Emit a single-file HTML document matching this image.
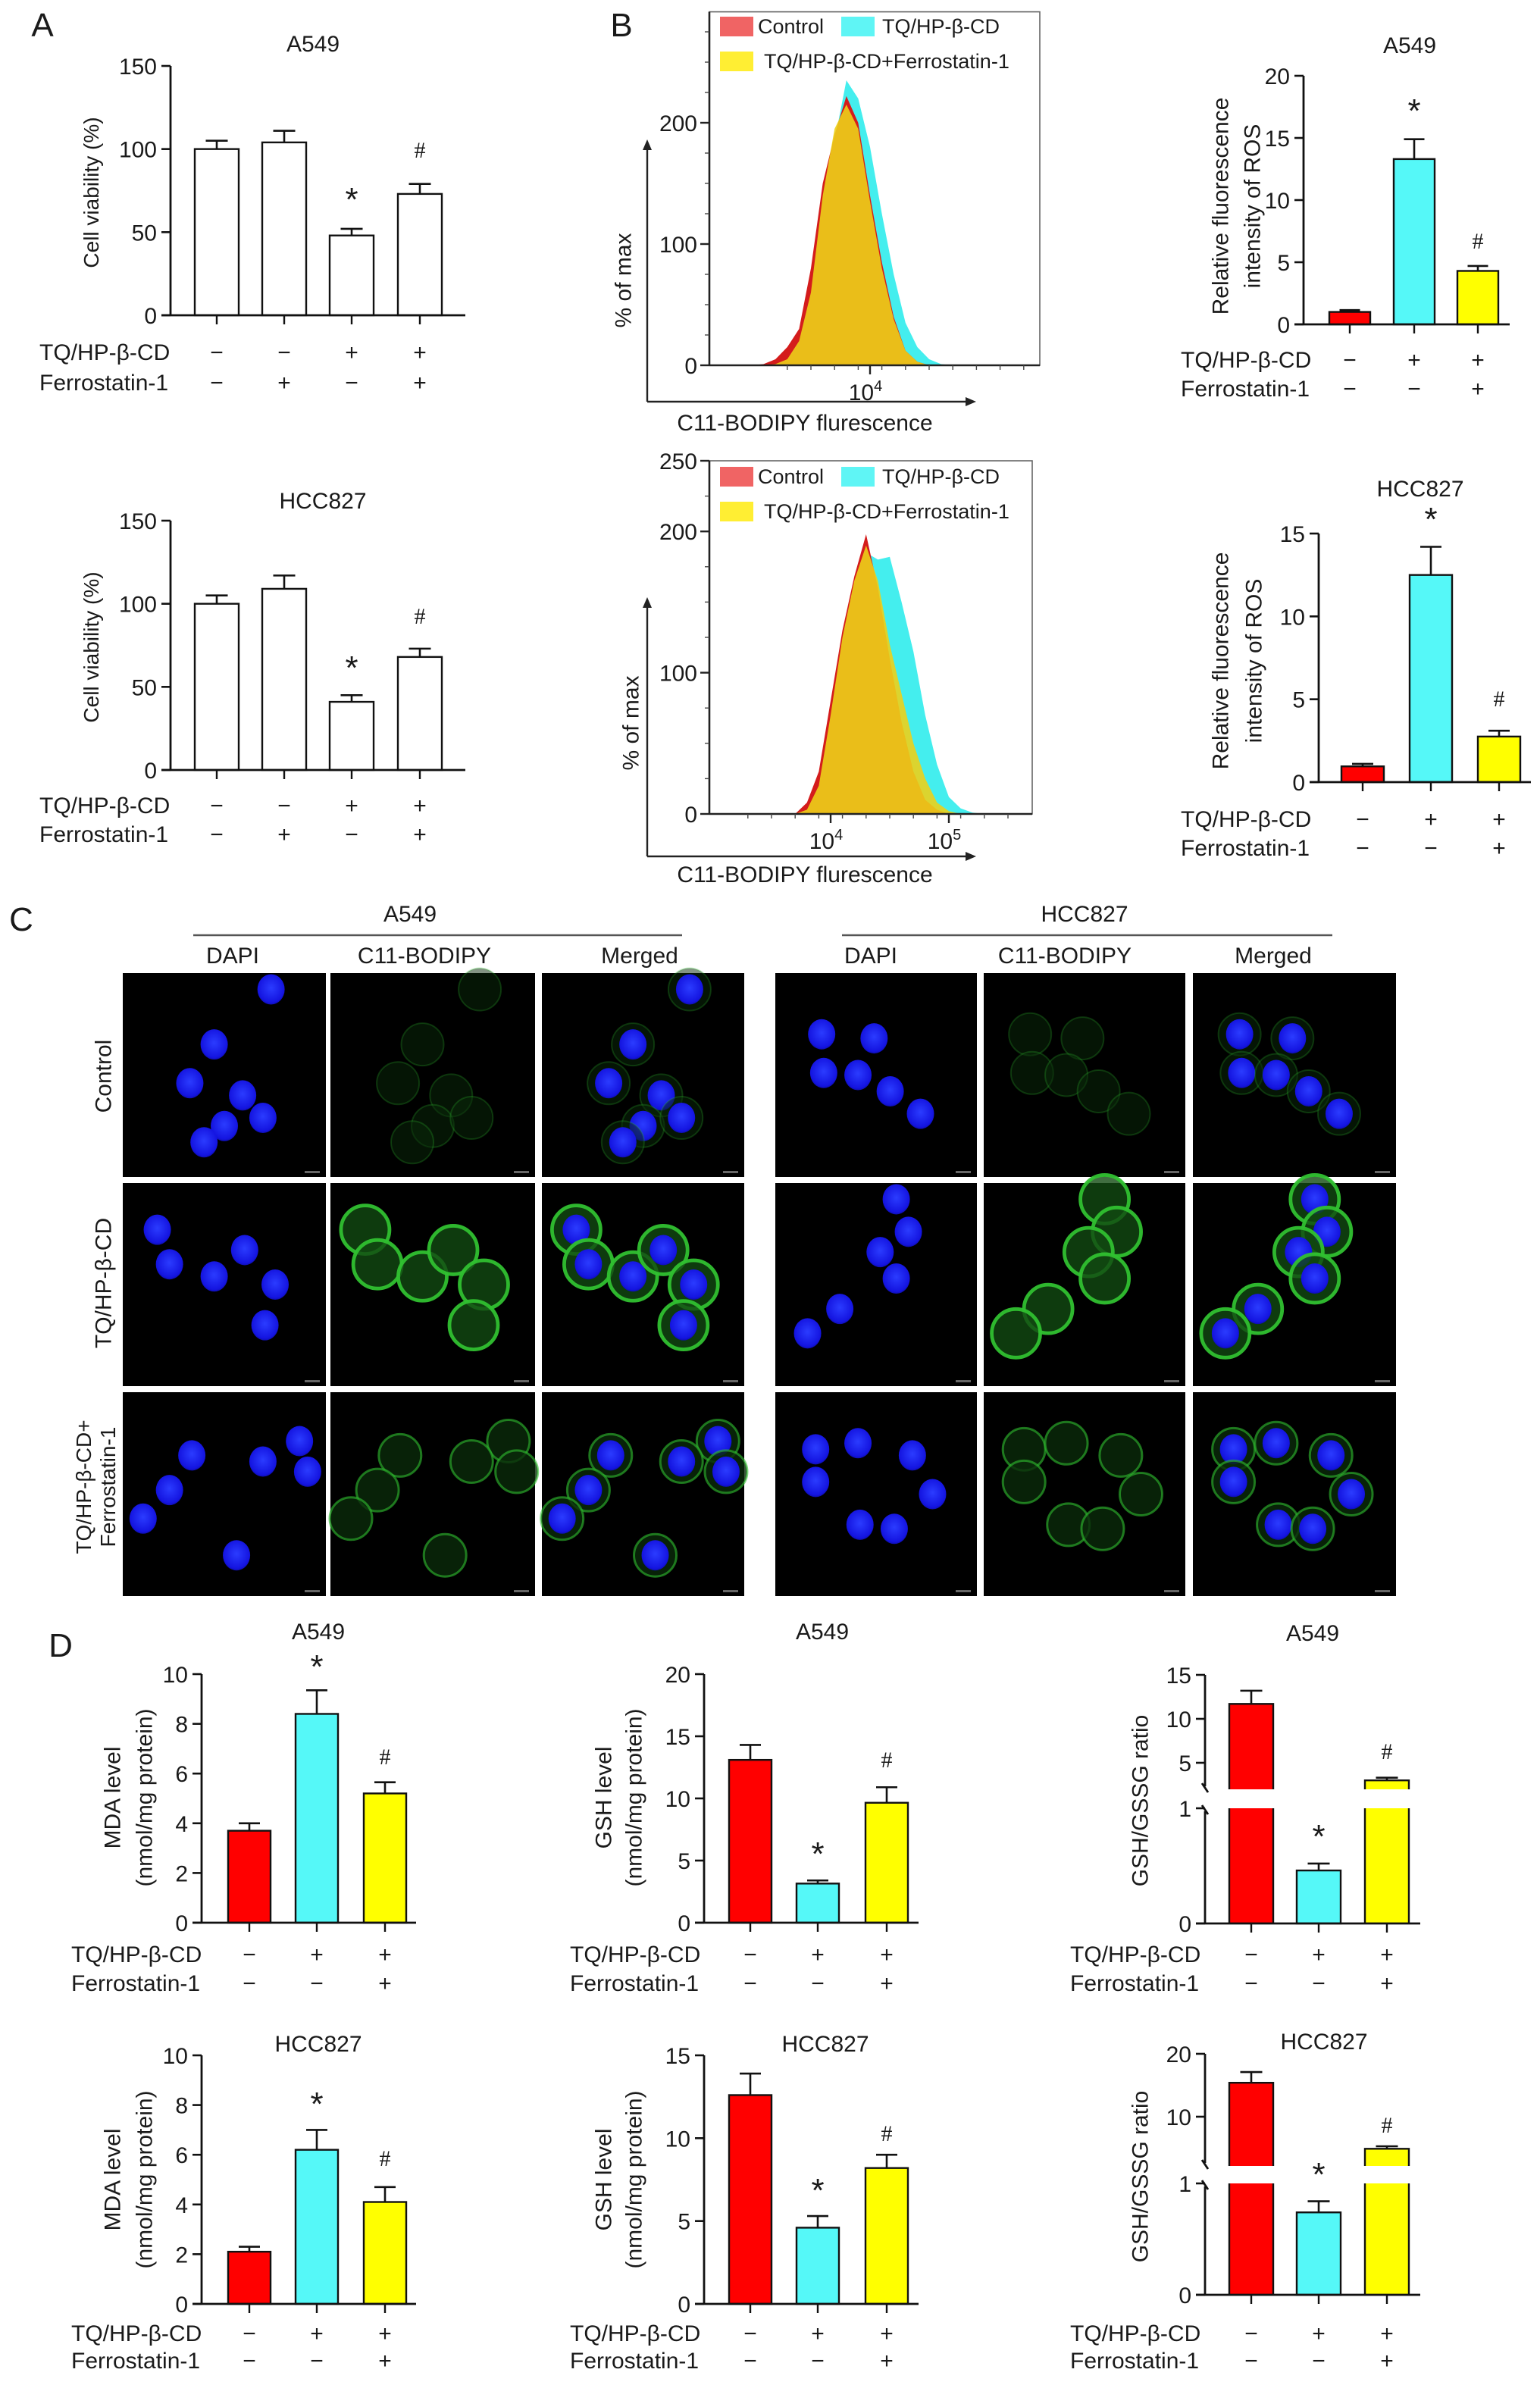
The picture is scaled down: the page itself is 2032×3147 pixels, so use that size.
<!DOCTYPE html>
<html><head><meta charset="utf-8">
<style>
html,body{margin:0;padding:0;background:#fff;}
svg{display:block;font-family:"Liberation Sans",sans-serif;}
</style></head>
<body>
<svg id="fig" xmlns="http://www.w3.org/2000/svg" width="2032" height="3147" viewBox="0 0 1016 1573.5">
<rect x="0" y="0" width="1016" height="1573.5" fill="#fff"/>
<defs>
<radialGradient id="nuc" cx="50%" cy="45%" r="60%"><stop offset="0" stop-color="#2b3cff"/><stop offset="0.8" stop-color="#1414e0"/><stop offset="1" stop-color="#0a0a90"/></radialGradient>
</defs>
<g id="root"></g>
</svg>
<script>
// ---------- DATA ----------
const groups = ['Control','TQ/HP-β-CD','TQ/HP-β-CD+Ferrostatin-1'];
const aGroups = ['Control','Ferrostatin-1','TQ/HP-β-CD','TQ/HP-β-CD+Ferrostatin-1'];
const aTQ = ['−','−','+','+'];
const aFer = ['−','+','−','+'];
const bTQ = ['−','+','+'];
const bFer = ['−','−','+'];
const aTicks = [0,50,100,150];
const a549Viab = [100,104,48,73];
const a549ViabErr = [5,7,4,6];
const hccViab = [100,109,41,68];
const hccViabErr = [5,8,4,5];
const rosTicksTop = [0,5,10,15,20];
const rosTicksBot = [0,5,10,15];
const a549Ros = [1.0,13.3,4.3];
const a549RosErr = [0.15,1.6,0.4];
const hccRos = [0.95,12.5,2.75];
const hccRosErr = [0.15,1.7,0.35];
const mdaTicks = [0,2,4,6,8,10];
const a549Mda = [3.7,8.4,5.2];
const a549MdaErr = [0.3,0.95,0.45];
const hccMda = [2.1,6.2,4.1];
const hccMdaErr = [0.2,0.8,0.6];
const gshTicksTop = [0,5,10,15,20];
const gshTicksBot = [0,5,10,15];
const a549Gsh = [13.1,3.15,9.65];
const a549GshErr = [1.2,0.25,1.25];
const hccGsh = [12.6,4.6,8.2];
const hccGshErr = [1.3,0.7,0.8];
const ratioTicksTopUpper = [5,10,15];
const ratioTicksBotUpper = [10,20];
const ratioTicksLower = [0,1];
const a549Ratio = [11.7,0.46,3.0];
const a549RatioErr = [1.5,0.06,0.3];
const hccRatio = [15.4,0.74,4.9];
const hccRatioErr = [1.7,0.1,0.4];
// histograms (log10 fluorescence bins, % of max)
const histTopLog = [3.0,3.1,3.2,3.3,3.4,3.5,3.6,3.7,3.8,3.9,4.0,4.1,4.2,4.3,4.4,4.5,4.6,4.7,4.8,4.9];
const histTopRed = [0,1,5,15,30,80,150,190,222,200,140,85,40,12,3,0,0,0,0,0];
const histTopYellow = [0,0,1,5,20,60,140,195,215,195,135,80,38,12,3,0,0,0,0,0];
const histTopCyan = [0,0,1,5,20,55,130,185,235,220,180,125,75,35,15,5,1,0,0,0];
const histBotLog = [3.6,3.7,3.8,3.9,4.0,4.1,4.2,4.3,4.4,4.5,4.6,4.7,4.8,4.9,5.0,5.1,5.2,5.3];
const histBotRed = [0,0,8,30,80,130,168,198,160,110,65,30,10,3,0,0,0,0];
const histBotYellow = [0,0,3,20,70,125,165,190,165,120,85,50,25,8,2,0,0,0];
const histBotCyan = [0,0,2,15,60,115,160,185,180,182,150,115,70,35,12,4,1,0];
const histTicksTop = [0,100,200];
const histTicksBot = [0,100,200,250];

const NS='http://www.w3.org/2000/svg';
const root=document.getElementById('root');
function mk(tag,attrs,parent){const e=document.createElementNS(NS,tag);for(const k in attrs)e.setAttribute(k,attrs[k]);(parent||root).appendChild(e);return e;}
function txt(s,x,y,size,anchor,parent,extra){const e=mk('text',Object.assign({x:x,y:y,'font-size':size,'text-anchor':anchor||'middle',fill:'#1a1a1a'},extra||{}),parent);e.textContent=s;return e;}

const RED='#ff0000', CYAN='#55f8f8', YEL='#ffff00';

// ---------- BAR CHART ----------
function barChart(c){
  const g=mk('g',{});
  
  
  const yScale=c.yScale;
  c.values.forEach((v,i)=>{
    const cx=c.centers[i], w=c.width;
    const eTop=yScale(v+c.errs[i]);
    const el=mk('line',{x1:cx,x2:cx,y1:yScale(v),y2:eTop,stroke:'#111','stroke-width':1.3},g);
    
    
    const cap=mk('line',{x1:cx-w*0.25,x2:cx+w*0.25,y1:eTop,y2:eTop,stroke:'#111','stroke-width':1.3},g);
    
    
    if(c.broken && v>1){
      const lo=mk('rect',{x:cx-w/2,y:yScale(1),width:w,height:c.y0-yScale(1),fill:c.colors[i]},g);
      
      
      mk('line',{x1:cx-w/2,x2:cx-w/2,y1:yScale(1),y2:c.y0,stroke:'#111','stroke-width':1.2},g);
      mk('line',{x1:cx+w/2,x2:cx+w/2,y1:yScale(1),y2:c.y0,stroke:'#111','stroke-width':1.2},g);
      const top=yScale(v);
      const up=mk('rect',{x:cx-w/2,y:top,width:w,height:c.cutY-top,fill:c.colors[i]},g);
      
      
      mk('path',{d:`M${cx-w/2},${c.cutY} V${top} H${cx+w/2} V${c.cutY}`,fill:'none',stroke:'#111','stroke-width':1.2},g);
    } else {
      const r=mk('rect',{x:cx-w/2,y:yScale(v),width:w,height:c.y0-yScale(v),fill:c.colors[i],stroke:'#111','stroke-width':1.2},g);
      
      
    }
    const tk=mk('line',{x1:cx,x2:cx,y1:c.y0,y2:c.y0+6,stroke:'#111','stroke-width':1.2},g);
    
    
  });
  if(c.broken){
    mk('line',{x1:c.axisX,x2:c.axisX,y1:c.yTopPx,y2:c.cutY-2,stroke:'#111','stroke-width':1.4},g);
    mk('line',{x1:c.axisX,x2:c.axisX,y1:c.lowTopY+2,y2:c.y0,stroke:'#111','stroke-width':1.4},g);
    mk('line',{x1:c.axisX-2,x2:c.axisX+2,y1:c.cutY-4,y2:c.cutY+2,stroke:'#111','stroke-width':1.4},g);
    mk('line',{x1:c.axisX-2,x2:c.axisX+2,y1:c.lowTopY-2,y2:c.lowTopY+4,stroke:'#111','stroke-width':1.4},g);
  } else {
    mk('line',{x1:c.axisX,x2:c.axisX,y1:c.yTopPx,y2:c.y0,stroke:'#111','stroke-width':1.4},g);
  }
  const xa=mk('line',{x1:c.axisX-6,x2:c.axisEnd,y1:c.y0,y2:c.y0,stroke:'#111','stroke-width':1.4},g);
  
  
  c.ticks.forEach(t=>{
    const y=yScale(t);
    mk('line',{x1:c.axisX-6,x2:c.axisX,y1:y,y2:y,stroke:'#111','stroke-width':1.3},g);
    const tl=txt(String(t),c.axisX-9,y+5.5,c.fs||15,'end',g);
    
    
  });
  const ti=txt(c.title,c.titleX,c.titleY+5.5,15,'middle',g);
  
  
  c.ylabel.forEach((s,k)=>{
    const yl=txt(s,0,0,c.ylfs||15,'middle',g,{transform:`translate(${c.ylabelX[k]},${c.ylabelY}) rotate(-90)`,dy:'0.35em'});
    
    
  });
  if(c.star){const s=txt('*',c.centers[c.star[0]],c.star[1]+9,22,'middle',g);}
  if(c.hash){const s=txt('#',c.centers[c.hash[0]],c.hash[1]+6,15,'middle',g,{'font-family':'Liberation Serif, serif'});}
  const l1=txt('TQ/HP-β-CD',c.labelX,c.row1+5.5,15,'start',g);
  
  
  const l2=txt('Ferrostatin-1',c.labelX,c.row2+5.5,15,'start',g);
  
  
  c.tq.forEach((s,i)=>{const e=txt(s,c.centers[i],c.row1+5.5,15,'middle',g);});
  c.fer.forEach((s,i)=>{const e=txt(s,c.centers[i],c.row2+5.5,15,'middle',g);});
}
function lin(y0,yTopPx,topVal){return v=>y0-v*(y0-yTopPx)/topVal;}
function brk(y0,lowTopY,refY,refVal,k){return v=> v<=1 ? y0-v*(y0-lowTopY) : refY-(v-refVal)*k;}

barChart({name:'a549-viability-chart',values:a549Viab,errs:a549ViabErr,colors:['#fff','#fff','#fff','#fff'],centers:[143,187.5,232,277],width:29,
 axisX:112.5,axisEnd:307,y0:208,yTopPx:43.5,yScale:lin(208,43.5,150),ticks:aTicks,title:'A549',titleX:206.5,titleY:28.5,
 ylabel:['Cell viability (%)'],ylabelX:[60],ylabelY:127,ylfs:14,star:[2,130],hash:[3,98],labelX:26,row1:232,row2:252,tq:aTQ,fer:aFer});
barChart({name:'hcc827-viability-chart',values:hccViab,errs:hccViabErr,colors:['#fff','#fff','#fff','#fff'],centers:[143,187.5,232,277],width:29,
 axisX:112.5,axisEnd:307,y0:508,yTopPx:343.5,yScale:lin(508,343.5,150),ticks:aTicks,title:'HCC827',titleX:213,titleY:330,
 ylabel:['Cell viability (%)'],ylabelX:[60],ylabelY:427,ylfs:14,star:[2,439],hash:[3,405.5],labelX:26,row1:531,row2:550,tq:aTQ,fer:aFer});
barChart({name:'a549-ros-chart',values:a549Ros,errs:a549RosErr,colors:[RED,CYAN,YEL],centers:[890.5,933,975],width:27,
 axisX:860,axisEnd:996,y0:214,yTopPx:50,yScale:lin(214,50,20),ticks:rosTicksTop,title:'A549',titleX:930,titleY:29.5,
 ylabel:['Relative fluorescence','intensity of ROS'],ylabelX:[805,826],ylabelY:136,star:[1,71.5],hash:[2,158],labelX:779,row1:237,row2:256,tq:bTQ,fer:bFer});
barChart({name:'hcc827-ros-chart',values:hccRos,errs:hccRosErr,colors:[RED,CYAN,YEL],centers:[899,944,989],width:28,
 axisX:870,axisEnd:1010,y0:516,yTopPx:352,yScale:lin(516,352,15),ticks:rosTicksBot,title:'HCC827',titleX:937,titleY:322,
 ylabel:['Relative fluorescence','intensity of ROS'],ylabelX:[805,827],ylabelY:436,star:[1,341],hash:[2,460],labelX:779,row1:540,row2:559,tq:bTQ,fer:bFer});
const Dc1=[164.5,209,254], Dc2=[495,539.5,585], Dc3=[825.5,870,915];
barChart({name:'a549-mda-chart',values:a549Mda,errs:a549MdaErr,colors:[RED,CYAN,YEL],centers:Dc1,width:28,
 axisX:133,axisEnd:274.5,y0:1268.5,yTopPx:1104.5,yScale:lin(1268.5,1104.5,10),ticks:mdaTicks,title:'A549',titleX:210,titleY:1076,
 ylabel:['MDA level','(nmol/mg protein)'],ylabelX:[74,95],ylabelY:1186,star:[1,1098],hash:[2,1158],labelX:47,row1:1289,row2:1308,tq:bTQ,fer:bFer});
barChart({name:'a549-gsh-chart',values:a549Gsh,errs:a549GshErr,colors:[RED,CYAN,YEL],centers:Dc2,width:28,
 axisX:464.5,axisEnd:606,y0:1268.5,yTopPx:1104.5,yScale:lin(1268.5,1104.5,20),ticks:gshTicksTop,title:'A549',titleX:542.5,titleY:1076,
 ylabel:['GSH level','(nmol/mg protein)'],ylabelX:[398,418],ylabelY:1186,star:[1,1221.5],hash:[2,1160],labelX:376,row1:1289,row2:1308,tq:bTQ,fer:bFer});
(function(){
 const ys=brk(1269,1193,1163,5,5.8);
 barChart({name:'a549-ratio-chart',values:a549Ratio,errs:a549RatioErr,colors:[RED,CYAN,YEL],centers:Dc3,width:29,broken:true,cutY:1180.5,lowTopY:1193,
 axisX:795,axisEnd:937,y0:1269,yTopPx:1105,yScale:ys,ticks:ratioTicksTopUpper.concat(ratioTicksLower),title:'A549',titleX:866,titleY:1077,
 ylabel:['GSH/GSSG ratio'],ylabelX:[752],ylabelY:1188,star:[1,1210],hash:[2,1154.5],labelX:706,row1:1289,row2:1308,tq:bTQ,fer:bFer});
})();
barChart({name:'hcc827-mda-chart',values:hccMda,errs:hccMdaErr,colors:[RED,CYAN,YEL],centers:Dc1,width:28,
 axisX:133,axisEnd:274.5,y0:1520,yTopPx:1356,yScale:lin(1520,1356,10),ticks:mdaTicks,title:'HCC827',titleX:210,titleY:1348,
 ylabel:['MDA level','(nmol/mg protein)'],ylabelX:[74,95],ylabelY:1438,star:[1,1386.5],hash:[2,1423],labelX:47,row1:1539,row2:1557,tq:bTQ,fer:bFer});
barChart({name:'hcc827-gsh-chart',values:hccGsh,errs:hccGshErr,colors:[RED,CYAN,YEL],centers:Dc2,width:28,
 axisX:464.5,axisEnd:606,y0:1520,yTopPx:1356,yScale:lin(1520,1356,15),ticks:gshTicksBot,title:'HCC827',titleX:544.5,titleY:1348,
 ylabel:['GSH level','(nmol/mg protein)'],ylabelX:[398,418],ylabelY:1438,star:[1,1443.5],hash:[2,1406.5],labelX:376,row1:1539,row2:1557,tq:bTQ,fer:bFer});
(function(){
 const ys=brk(1514,1440.5,1396.5,10,4.15);
 barChart({name:'hcc827-ratio-chart',values:hccRatio,errs:hccRatioErr,colors:[RED,CYAN,YEL],centers:Dc3,width:29,broken:true,cutY:1429,lowTopY:1440.5,
 axisX:795,axisEnd:937,y0:1514,yTopPx:1355,yScale:ys,ticks:ratioTicksBotUpper.concat(ratioTicksLower),title:'HCC827',titleX:873.5,titleY:1346.5,
 ylabel:['GSH/GSSG ratio'],ylabelX:[752],ylabelY:1436,star:[1,1433],hash:[2,1401],labelX:706,row1:1539,row2:1557,tq:bTQ,fer:bFer});
})();

// ---------- HISTOGRAMS ----------
function hist(h){
  const g=mk('g',{});
  
  
  const xs=L=>h.x4+(L-4)*78, ys=v=>h.y0-v*h.k;
  mk('rect',{x:h.left,y:h.top,width:h.right-h.left,height:h.y0-h.top,fill:'none',stroke:'#666','stroke-width':0.8},g);
  const series=[[h.cyan,'#44eeee',1,'histogram-tq'],[h.red,'#d41c1c',1,'histogram-control'],[h.yellow,'#ecd01a',0.9,'histogram-tq-ferrostatin']];
  series.forEach(([arr,col,op,nm])=>{
    let d=`M${xs(h.logs[0])},${h.y0}`;
    arr.forEach((v,i)=>{d+=` L${xs(h.logs[i]).toFixed(1)},${ys(v).toFixed(1)}`;});
    d+=` L${xs(h.logs[h.logs.length-1])},${h.y0} Z`;
    const p=mk('path',{d:d,fill:col,'fill-opacity':op,stroke:'none'},g);
    
    
  });
  mk('line',{x1:h.left,x2:h.left,y1:h.top,y2:h.y0,stroke:'#222','stroke-width':1.3},g);
  mk('line',{x1:h.left,x2:h.right,y1:h.y0,y2:h.y0,stroke:'#222','stroke-width':1.3},g);
  for(let v=0; v<=h.maxV; v+=25){mk('line',{x1:h.left-3,x2:h.left,y1:ys(v),y2:ys(v),stroke:'#444','stroke-width':0.7},g);}
  h.ticks.forEach(t=>{mk('line',{x1:h.left-6,x2:h.left,y1:ys(t),y2:ys(t),stroke:'#222','stroke-width':1.2},g);
    const e=txt(String(t),h.left-8,ys(t)+5.5,15,'end',g);});
  for(let L=3.3;L<=5.6;L+=0.2){const x=xs(L);if(x>h.left&&x<h.right)mk('line',{x1:x,x2:x,y1:h.y0,y2:h.y0+3,stroke:'#444','stroke-width':0.7},g);}
  h.decades.forEach(d=>{const x=xs(d);mk('line',{x1:x,x2:x,y1:h.y0,y2:h.y0+6,stroke:'#222','stroke-width':1.2},g);
    const e=mk('text',{x:x-3,y:h.y0+23,'font-size':15,'text-anchor':'middle',fill:'#1a1a1a'},g);e.textContent='10';
    const s=mk('tspan',{dy:-6,'font-size':10},e);s.textContent=String(d);
    });
  mk('line',{x1:427,x2:427,y1:h.arrowTop+6,y2:h.arrowY,stroke:'#222','stroke-width':1.2},g);
  mk('path',{d:`M${427-3},${h.arrowTop+7} L427,${h.arrowTop} L${427+3},${h.arrowTop+7} Z`,fill:'#222'},g);
  mk('line',{x1:427,x2:638,y1:h.arrowY,y2:h.arrowY,stroke:'#222','stroke-width':1.2},g);
  mk('path',{d:`M637,${h.arrowY-3} L644,${h.arrowY} L637,${h.arrowY+3} Z`,fill:'#222'},g);
  const yl=txt('% of max',0,0,15,'middle',g,{transform:`translate(${h.ylx},${h.yly}) rotate(-90)`,dy:'0.35em'});
  
  const xl=txt('C11-BODIPY flurescence',531,h.xlY,15,'middle',g);
  
  const lg=mk('g',{},g);
  
  
  const items=[[475,h.lg1,'#f06464','Control',500],[555,h.lg1,'#5ff5f5','TQ/HP-β-CD',582],[475,h.lg2,'#ffee33','TQ/HP-β-CD+Ferrostatin-1',504]];
  items.forEach(([x,y,c,s,tx])=>{const r=mk('rect',{x:x,y:y,width:22,height:13,fill:c},lg);
    const t=txt(s,tx,y+11,13.5,'start',lg);});
}
hist({name:'a549-flow-histogram',logs:histTopLog,red:histTopRed,yellow:histTopYellow,cyan:histTopCyan,x4:574,y0:241,k:0.8,top:7.8,left:468,right:686,maxV:285,
 ticks:histTicksTop,decades:[4],arrowTop:92,arrowY:265,ylx:411,yly:185,xlY:284,lg1:11,lg2:34});
hist({name:'hcc827-flow-histogram',logs:histBotLog,red:histBotRed,yellow:histBotYellow,cyan:histBotCyan,x4:548,y0:537,k:0.932,top:304,left:468,right:681,maxV:250,
 ticks:histTicksBot,decades:[4,5],arrowTop:394,arrowY:565,ylx:416,yly:477,xlY:582,lg1:308,lg2:331});

// ---------- PANEL C MICROSCOPY ----------
const colX=[[81,215],[218,353],[357.5,491],[511.5,644.5],[649,782],[787,921]];
const rowY=[[642,776.5],[780.5,914.5],[918.5,1053]];
const cells={
 a0:[[0.73,0.08],[0.45,0.35],[0.33,0.54],[0.59,0.60],[0.5,0.75],[0.69,0.71],[0.40,0.83]],
 a1:[[0.17,0.23],[0.23,0.40],[0.45,0.46],[0.6,0.33],[0.75,0.50],[0.70,0.70]],
 a2:[[0.34,0.31],[0.87,0.24],[0.69,0.34],[0.91,0.39],[0.23,0.48],[0.10,0.62],[0.56,0.80]],
 h0:[[0.23,0.30],[0.49,0.32],[0.24,0.49],[0.41,0.50],[0.57,0.58],[0.72,0.69]],
 h1:[[0.60,0.08],[0.66,0.24],[0.52,0.34],[0.60,0.47],[0.32,0.62],[0.16,0.74]],
 h2:[[0.20,0.28],[0.41,0.25],[0.68,0.31],[0.20,0.44],[0.78,0.50],[0.42,0.65],[0.59,0.67]]
};
const greenOp=[0.25,0.95,0.6];
const gC=mk('g',{});


const chan=['DAPI','C11-BODIPY','Merged'];
for(let line=0; line<2; line++){
 for(let r=0;r<3;r++){
  const key=(line?'h':'a')+r;
  for(let ch=0;ch<3;ch++){
   const [x0,x1]=colX[line*3+ch],[y0,y1]=rowY[r];
   const w=x1-x0,h=y1-y0;
   const im=mk('rect',{x:x0,y:y0,width:w,height:h,fill:'#000'},gC);
   
   
   const cg=mk('g',{},gC);
   cells[key].forEach(([fx,fy])=>{
     const cx=x0+fx*w, cy=y0+fy*h;
     if(ch>0){
       mk('circle',{cx:cx,cy:cy,r:r==1?16:14,fill:r==1?'#124a12':'#0a2a0a','fill-opacity':r==0?0.5:0.8,stroke:'#30c030','stroke-width':r==1?2.4:(r==0?1.0:1.5),'stroke-opacity':greenOp[r]},cg);
     }
     if(ch!==1){
       mk('ellipse',{cx:cx,cy:cy,rx:9,ry:10,fill:'url(#nuc)'},cg);
     }
   });
   mk('rect',{x:x1-14,y:y1-4,width:10,height:1.5,fill:'#666'},gC);
  }
 }
}
const hdr=[['A549',270.5,127.5,450],['HCC827',715.5,555.5,879]];
hdr.forEach(([s,cx,a,b])=>{const t=txt(s,cx,608,15,'middle',gC);
 mk('line',{x1:a,x2:b,y1:617,y2:617,stroke:'#555','stroke-width':1.2},gC);});
const chX=[153.5,280,422,574.5,702.5,840];
chX.forEach((x,i)=>{const t=txt(chan[i%3],x,635.5,15,'middle',gC);});
const rl1=txt('Control',0,0,15,'middle',gC,{transform:'translate(68,710) rotate(-90)',dy:'0.35em'});

const rl2=txt('TQ/HP-β-CD',0,0,15,'middle',gC,{transform:'translate(68,846.5) rotate(-90)',dy:'0.35em'});

const rl3=txt('TQ/HP-β-CD+',0,0,14,'middle',gC,{transform:'translate(55,981) rotate(-90)',dy:'0.35em'});

const rl4=txt('Ferrostatin-1',0,0,14,'middle',gC,{transform:'translate(71,981) rotate(-90)',dy:'0.35em'});


[['A',28,24],['B',410,24],['C',14,614],['D',40,1093]].forEach(([s,x,y])=>{const t=txt(s,x,y,22,'middle');});
</script>
</body></html>
